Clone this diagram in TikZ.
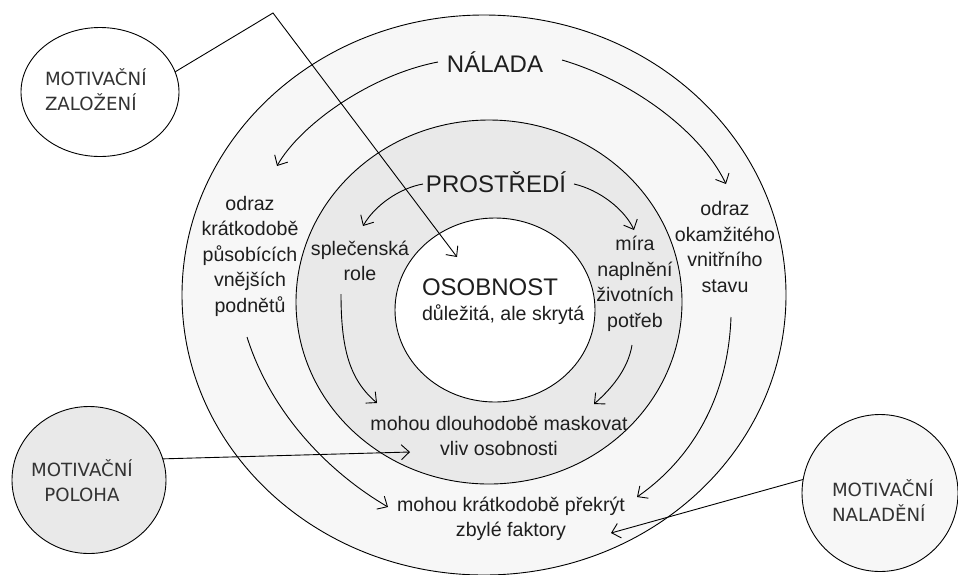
\documentclass[tikz,border=0pt]{standalone}
\usepackage{fontspec}
\setmainfont{Liberation Sans}
\newfontfamily\bubblefont{DejaVu Sans}
\usetikzlibrary{arrows.meta,shapes.geometric}
\definecolor{ringout}{HTML}{F7F7F7}
\definecolor{ringmid}{HTML}{E9E9E9}
\definecolor{ink}{HTML}{1E1E1E}
\begin{document}
\begin{tikzpicture}[x=1pt,y=-1pt,
  every node/.style={inner sep=0pt, outer sep=0pt, text=ink},
  txt/.style={font=\fontsize{19.6}{25.5}\selectfont},
  big/.style={font=\fontsize{24}{28}\selectfont},
  ring/.style={draw=black, line width=0.9pt},
  bubble/.style={draw=black, ellipse, line width=0.9pt},
  bubbletext/.style={font={\bubblefont\fontsize{18.2}{25}\selectfont}, text=black!80},
  link/.style={draw=black, line width=0.9pt, -{Straight Barb[length=8pt,width=15pt]}},
  lbl/.style={txt, align=center},
]
\useasboundingbox (0,0) rectangle (958,574);

% concentric layers
\path[ring, fill=ringout] (484,295) ellipse [x radius=302pt, y radius=280pt];
\path[ring, fill=ringmid] (489,302) ellipse [x radius=193pt, y radius=182pt];
\path[ring, fill=white]   (495,310) ellipse [x radius=100pt, y radius=92pt];

% side bubbles
\node[bubble, fill=white,   minimum width=158pt, minimum height=129pt] (zal) at (100,92) {};
\node[bubble, fill=ringmid, minimum width=154pt, minimum height=147pt] (pol) at (89,480) {};
\node[bubble, fill=ringout, minimum width=156pt, minimum height=157pt] (nal) at (880,493) {};
\node[bubbletext, align=left, anchor=west] (zalT) at (45,90) {MOTIVAČNÍ\\ZALOŽENÍ};
\node[bubbletext, align=center] (polT) at (82,481) {MOTIVAČNÍ\\POLOHA};
\node[bubbletext, align=left, anchor=west] (nalT) at (832,501) {MOTIVAČNÍ\\NALADĚNÍ};

% layer titles
\node[big] (nalada) at (495,62) {NÁLADA};
\node[big] (prostredi) at (496,182) {PROSTŘEDÍ};
\node[big, anchor=base west] (osob) at (422,295) {OSOBNOST};
\node[txt, anchor=base west] (skryta) at (422,320) {důležitá, ale skrytá};

% descriptions
\node[lbl] (vnejsi) at (250,256) {odraz\\krátkodobě\\působících\\vnějších\\podnětů};
\node[lbl] (role) at (360,261) {splečenská\\role};
\node[lbl] (potreby) at (635,284) {míra\\naplnění\\životních\\potřeb};
\node[lbl] (stav) at (725,247) {odraz\\okamžitého\\vnitřního\\stavu};
\node[lbl] (maskovat) at (499,436) {mohou dlouhodobě maskovat\\vliv osobnosti};
\node[lbl] (prekryt) at (511,519) {mohou krátkodobě překrýt\\zbylé faktory};

% arrow end points
\coordinate (zalKnee) at (273,13);
\coordinate (zalEnd) at (457,257);
\coordinate (nlEnd) at (277,166);
\coordinate (nrEnd) at (726,184);
\coordinate (plEnd) at (363,226);
\coordinate (prEnd) at (634,230);
\coordinate (roleStart) at (341,294);
\coordinate (roleEnd) at (377,403);
\coordinate (potStart) at (632,345);
\coordinate (potEnd) at (594,404);
\coordinate (vnStart) at (247,337);
\coordinate (vnEnd) at (388,507);
\coordinate (stStart) at (731,317);
\coordinate (stEnd) at (637,497);
\coordinate (polEnd) at (410,452);
\coordinate (nalEnd) at (611,533);

% connectors
\draw[link] (zal.15) -- (zalKnee) -- (zalEnd);
\draw[link] ([xshift=-9pt]nalada.west) .. controls (370,75) and (300,125) .. (nlEnd);
\draw[link] ([xshift=19pt,yshift=2pt]nalada.east) .. controls (630,80) and (700,130) .. (nrEnd);
\draw[link] ([xshift=-3pt,yshift=-2pt]prostredi.west) .. controls (400,188) and (375,205) .. (plEnd);
\draw[link] ([xshift=8pt,yshift=-2pt]prostredi.east) .. controls (600,190) and (625,210) .. (prEnd);
\draw[link] (roleStart) .. controls (341,350) and (350,380) .. (roleEnd);
\draw[link] (potStart) .. controls (628,370) and (610,390) .. (potEnd);
\draw[link] (vnStart) .. controls (270,410) and (325,470) .. (vnEnd);
\draw[link] (stStart) .. controls (728,400) and (690,460) .. (stEnd);
\draw[link] (pol.16) -- (polEnd);
\draw[link] (nal.170) -- (nalEnd);
\end{tikzpicture}
\end{document}
